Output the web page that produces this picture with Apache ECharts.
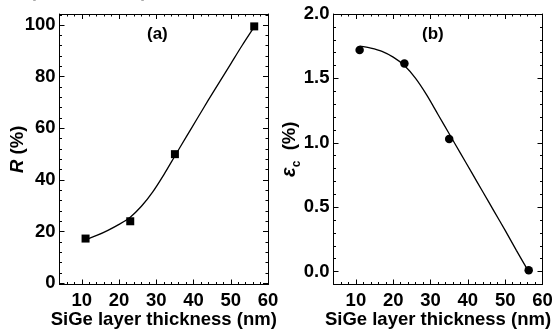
<!DOCTYPE html>
<html>
<head>
<meta charset="utf-8">
<script src="https://cdn.jsdelivr.net/npm/echarts@6/dist/echarts.min.js"></script>
<style>html,body{margin:0;padding:0;background:#fff}#c{width:553px;height:329px}</style>
</head>
<body>
<div id="c"></div>
<script>
// ---- data ----
const thicknessA = [11, 23, 35, 56.3];
const ratioR = [17.3, 24.0, 50.0, 99.5];
const fitAx = [11, 14, 17, 20, 23, 26, 29, 32, 35, 38, 41, 44, 47, 50, 53, 56.3];
const fitAy = [16.8, 18.5, 20.5, 22.8, 25.6, 29.8, 35.3, 42, 49.3, 56.6, 63.8, 71, 78, 85, 92, 99.3];

const thicknessB = [11, 23, 35, 56.3];
const strainEc = [1.72, 1.615, 1.03, 0.01];
const fitBx = [11, 14, 17, 20, 23, 26, 29, 32, 35, 38, 41, 44, 47, 50, 53, 56.3];
const fitBy = [1.75, 1.735, 1.71, 1.665, 1.60, 1.50, 1.37, 1.22, 1.07, 0.92, 0.77, 0.62, 0.47, 0.32, 0.165, 0.0];

const xMajor = [10, 20, 30, 40, 50, 60];
const xMinor = [6, 8, 12, 14, 16, 18, 22, 24, 26, 28, 32, 34, 36, 38, 42, 44, 46, 48, 52, 54, 56, 58];
const yMajorA = [0, 20, 40, 60, 80, 100];
const yMinorA = [4, 8, 12, 16, 24, 28, 32, 36, 44, 48, 52, 56, 64, 68, 72, 76, 84, 88, 92, 96, 104];
const yMajorB = [0.0, 0.5, 1.0, 1.5, 2.0];
const yMinorB = [0.1, 0.2, 0.3, 0.4, 0.6, 0.7, 0.8, 0.9, 1.1, 1.2, 1.3, 1.4, 1.6, 1.7, 1.8, 1.9];

// ---- build ----
const FONT = 'Liberation Sans, Arial, sans-serif';
const FS = 18.5;
const chart = echarts.init(document.getElementById('c'), null, {renderer: 'canvas'});

function axisSet(dim, grid, min, max, major, minor, labelFmt, nameCfg) {
  const axes = [];
  const sides = dim === 'x' ? ['bottom', 'top'] : ['left', 'right'];
  sides.forEach((pos, si) => {
    const a = {
      type: 'value', gridIndex: grid, position: pos, min: min, max: max,
      splitLine: {show: false},
      axisLine: {show: true, onZero: false, lineStyle: {color: '#000', width: 1}},
      axisTick: {show: true, inside: true, length: 5, customValues: major, lineStyle: {color: '#000', width: 1}},
      axisLabel: si === 0 ? {
        show: true, customValues: major, formatter: labelFmt,
        color: '#000', fontFamily: FONT, fontWeight: 'bold', fontSize: FS,
        margin: dim === 'x' ? 7 : 4
      } : {show: false}
    };
    if (si === 0 && nameCfg) Object.assign(a, nameCfg, {nameMoveOverlap: false});
    axes.push(a);
    axes.push({
      type: 'value', gridIndex: grid, position: pos, min: min, max: max,
      splitLine: {show: false},
      axisLine: {show: false, onZero: false},
      axisTick: {show: true, inside: true, length: 2.5, customValues: minor, lineStyle: {color: '#000', width: 1}},
      axisLabel: {show: false}
    });
  });
  return axes;
}

const xNameCfg = {
  name: 'SiGe layer thickness (nm)', nameLocation: 'middle', nameGap: 26,
  nameTextStyle: {color: '#000', fontFamily: FONT, fontWeight: 'bold', fontSize: FS}
};

const xAxes = [].concat(
  axisSet('x', 0, 4, 60, xMajor, xMinor, v => String(v), xNameCfg),
  axisSet('x', 1, 4, 60, xMajor, xMinor, v => String(v), xNameCfg)
);
const yAxes = [].concat(
  axisSet('y', 0, -0.5, 104.3, yMajorA, yMinorA, v => String(v), {
    name: '{i|R} {n|(%)}', nameLocation: 'middle', nameGap: 32, nameRotate: 90,
    nameTextStyle: {
      color: '#000', fontFamily: FONT, fontWeight: 'bold', fontSize: FS,
      rich: {
        i: {fontStyle: 'italic', fontWeight: 'bold', fontSize: FS, fontFamily: FONT, color: '#000'},
        n: {fontWeight: 'bold', fontSize: FS, fontFamily: FONT, color: '#000'}
      }
    }
  }),
  axisSet('y', 1, -0.1, 2.0, yMajorB, yMinorB, v => v.toFixed(1), {
    name: '{e|ε}{s|c}  {n|(%)}', nameLocation: 'middle', nameGap: 34, nameRotate: 90,
    nameTextStyle: {
      color: '#000', fontFamily: FONT, fontWeight: 'bold', fontSize: FS,
      rich: {
        e: {fontStyle: 'italic', fontWeight: 'bold', fontSize: 20, fontFamily: FONT, color: '#000', verticalAlign: 'bottom'},
        s: {fontWeight: 'bold', fontSize: 12, fontFamily: FONT, color: '#000', verticalAlign: 'bottom', padding: [0, 0, -3, 0]},
        n: {fontWeight: 'bold', fontSize: FS, fontFamily: FONT, color: '#000', verticalAlign: 'bottom'}
      }
    }
  })
);

const option = {
  animation: false,
  backgroundColor: '#fff',
  grid: [
    {left: 59.5, top: 14, width: 208.5, height: 270.5, containLabel: false, outerBoundsMode: 'none'},
    {left: 333.5, top: 14, width: 209, height: 270.5, containLabel: false, outerBoundsMode: 'none'}
  ],
  xAxis: xAxes,
  yAxis: yAxes,
  graphic: [
    {type: 'text', left: 30, top: -17, style: {text: '(Color online)', fill: '#aaa', font: 'bold 18px Liberation Sans, Arial, sans-serif'}},
    {type: 'text', left: 147, top: 26, style: {text: '(a)', fill: '#000', font: 'bold 17px Liberation Sans, Arial, sans-serif'}},
    {type: 'text', left: 422, top: 26, style: {text: '(b)', fill: '#000', font: 'bold 17px Liberation Sans, Arial, sans-serif'}}
  ],
  series: [
    {
      type: 'line', xAxisIndex: 0, yAxisIndex: 0, smooth: 0.3, showSymbol: false,
      data: fitAx.map((x, i) => [x, fitAy[i]]),
      lineStyle: {color: '#000', width: 1.3}, z: 2
    },
    {
      type: 'scatter', xAxisIndex: 0, yAxisIndex: 0, symbol: 'rect', symbolSize: 8,
      data: thicknessA.map((x, i) => [x, ratioR[i]]),
      itemStyle: {color: '#000', opacity: 1}, z: 3
    },
    {
      type: 'line', xAxisIndex: 4, yAxisIndex: 4, smooth: 0.3, showSymbol: false,
      data: fitBx.map((x, i) => [x, fitBy[i]]),
      lineStyle: {color: '#000', width: 1.3}, z: 2
    },
    {
      type: 'scatter', xAxisIndex: 4, yAxisIndex: 4, symbol: 'circle', symbolSize: 8.5,
      data: thicknessB.map((x, i) => [x, strainEc[i]]),
      itemStyle: {color: '#000', opacity: 1}, z: 3
    }
  ]
};
chart.setOption(option);
</script>
</body>
</html>
